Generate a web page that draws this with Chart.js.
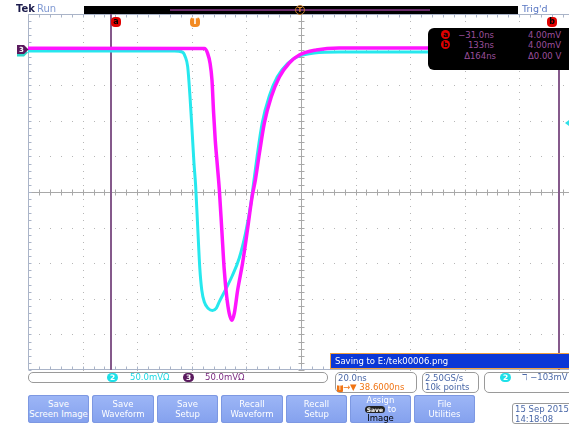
<!DOCTYPE html>
<html><head><meta charset="utf-8">
<script src="https://cdn.jsdelivr.net/npm/chart.js@4.4.1/dist/chart.umd.min.js"></script>
<style>
html,body{margin:0;padding:0;background:#fff;overflow:hidden}
#wrap{position:relative;width:569px;height:428px;font-family:"DejaVu Sans",sans-serif;font-size:8.5px}
#c{position:absolute;left:0;top:0}
.a{position:absolute;white-space:nowrap;line-height:1}
.box{position:absolute;border:1px solid #9a9a9a;border-radius:5px;background:#fff;box-sizing:border-box}
.btn{position:absolute;top:395px;height:28px;width:61px;background:linear-gradient(#9db6f6,#84a1ee);border-radius:3px;color:#fff;text-align:center;line-height:9.5px;font-size:8.5px;box-sizing:border-box;padding-top:5px;box-shadow:inset 0 0 0 1px #7d98e2}
.pill{display:inline-block;border-radius:5px;color:#fff;font-size:7.5px;line-height:9px;padding:0 3px;font-weight:bold}
.mk{position:absolute;width:10px;height:10px;border-radius:4px;font-size:8px;font-weight:bold;text-align:center;line-height:10px}
.rc{display:inline-block;width:9px;height:9px;border-radius:50%;background:#e00000;color:#000;font-size:7.5px;font-weight:bold;text-align:center;line-height:9px}
</style>
</head><body>
<div id="wrap">
<canvas id="c" width="569" height="428"></canvas>

<!-- top status -->
<div class="a" style="left:16px;top:4px;font-size:10px;font-weight:bold;color:#1c1c4c">Tek</div>
<div class="a" style="left:37px;top:4px;font-size:10px;color:#7f98d2">Run</div>
<div class="a" style="left:84px;top:6px;width:434px;height:8px;background:#000"></div>
<div class="a" style="left:170px;top:9px;width:260px;height:2px;background:#6a2a6a"></div>
<div class="a" style="left:295px;top:5px;width:8px;height:8px;border:1.5px solid #c07a30;border-radius:50%;color:#e08a30;font-size:7px;text-align:center;line-height:8px;font-weight:bold">T</div>
<div class="a" style="left:522px;top:4px;font-size:9.5px;color:#5a78c4">Trig'd</div>

<!-- cursor / trigger markers -->
<div class="mk" style="left:111px;top:17px;background:#e00000;color:#000">a</div>
<div class="mk" style="left:190px;top:17px;background:#f28a22;color:#fff">T</div>
<div class="mk" style="left:547px;top:17px;background:#e00000;color:#000">b</div>

<!-- cursor readout -->
<div class="a" style="left:428px;top:28px;width:150px;height:42px;background:#000;border-radius:6px"></div>
<div class="a" style="left:441px;top:30px"><span class="rc">a</span></div>
<div class="a" style="left:441px;top:40px"><span class="rc">b</span></div>
<div class="a" style="left:440px;top:31px;width:54px;text-align:right;color:#9c4f9c">−31.0ns</div>
<div class="a" style="left:440px;top:41px;width:54px;text-align:right;color:#9c4f9c">133ns</div>
<div class="a" style="left:440px;top:52px;width:56px;text-align:right;color:#9c4f9c">Δ164ns</div>
<div class="a" style="left:528px;top:31px;color:#9c4f9c">4.00mV</div>
<div class="a" style="left:528px;top:41px;color:#9c4f9c">4.00mV</div>
<div class="a" style="left:528px;top:52px;color:#9c4f9c">Δ0.00 V</div>

<!-- saving bar -->
<div class="a" style="left:330px;top:353px;width:245px;height:16px;background:#0b37d6;border:1px solid #f0a040;box-sizing:border-box"></div>
<div class="a" style="left:335px;top:357px;color:#fff;font-size:8.5px">Saving to E:/tek00006.png</div>

<!-- channel box -->
<div class="box" style="left:28px;top:372px;width:300px;height:11px"></div>
<div class="a" style="left:107px;top:373px"><span class="pill" style="background:#1ee0e8">2</span></div>
<div class="a" style="left:130px;top:373px;color:#1ed8e2">50.0mVΩ</div>
<div class="a" style="left:183px;top:373px"><span class="pill" style="background:#5a1a5e">3</span></div>
<div class="a" style="left:205px;top:373px;color:#7a2a80">50.0mVΩ</div>

<!-- horizontal box -->
<div class="box" style="left:335px;top:372px;width:82px;height:21px"></div>
<div class="a" style="left:338px;top:374px;color:#4a68a8">20.0ns</div>
<div class="a" style="left:337px;top:383px;color:#f07414"><span style="display:inline-block;background:#f07414;color:#fff;font-size:7px;width:6px;text-align:center;border-radius:1px">T</span>→▼ 38.6000ns</div>

<!-- acquisition box -->
<div class="box" style="left:422px;top:372px;width:57px;height:21px"></div>
<div class="a" style="left:425px;top:374px;color:#4a68a8">2.50GS/s</div>
<div class="a" style="left:425px;top:383px;color:#4a68a8">10k points</div>

<!-- trigger box -->
<div class="box" style="left:484px;top:372px;width:95px;height:21px"></div>
<div class="a" style="left:500px;top:373px"><span class="pill" style="background:#1ee0e8">2</span></div>
<div class="a" style="left:522px;top:373px;color:#4a68a8">ℸ −103mV</div>

<!-- buttons -->
<div class="btn" style="left:28px">Save<br>Screen Image</div>
<div class="btn" style="left:92px;width:62px">Save<br>Waveform</div>
<div class="btn" style="left:157px">Save<br>Setup</div>
<div class="btn" style="left:221px;width:62px">Recall<br>Waveform</div>
<div class="btn" style="left:286px">Recall<br>Setup</div>
<div class="btn" style="left:350px;padding-top:1px;line-height:9px">Assign<br><span class="pill" style="background:#222;font-size:6px;line-height:7px;padding:0 2px">Save</span> to<br><span style="color:#000">Image</span></div>
<div class="btn" style="left:414px">File<br>Utilities</div>

<!-- date -->
<div class="box" style="left:512px;top:403px;width:66px;height:21px;border-radius:3px"></div>
<div class="a" style="left:515px;top:405px;color:#4a68a8">15 Sep  2015</div>
<div class="a" style="left:515px;top:415px;color:#4a68a8">14:18:08</div>
</div>

<script>
// ---- data (time in ns, amplitude in mV) ----
const ch2Time = [-61.4, -7.8, -4.9, -3.8, -2.9, -2.05, -1.3, -0.6, 0.0, 0.73, 1.54, 2.27, 3.2, 4.65, 6.2, 7.6, 8.7, 11.1, 13.4, 16.0, 18.4, 20.2, 21.3, 22.6, 24.4, 27.0, 29.9, 33.6, 37.3, 43.5, 52.6, 136.8];
const ch2mV   = [-2, -2, -3.4, -10, -24, -66, -113, -159, -190, -246, -307, -338, -354.6, -363.6, -366.4, -363, -354, -336, -318, -292.7, -256, -218, -186, -148, -103, -65, -38.5, -20, -10, -4.8, -3.4, -3.4];
const ch3Time = [-61.4, 3.2, 4.4, 5.3, 6.0, 6.6, 7.2, 7.95, 8.7, 9.6, 10.5, 11.4, 12.3, 13.3, 14.2, 15.4, 17.2, 19.0, 20.7, 21.9, 23.4, 25.2, 27.7, 30.7, 34.3, 38.0, 44.2, 52.6, 136.8];
const ch3mV   = [1.8, 1.5, -5.2, -19.2, -42.7, -89, -127, -162, -197, -253, -309.5, -347, -370, -380, -370, -338, -300, -253, -206.6, -183, -145, -103, -66.6, -38.5, -18.8, -7.6, -0.6, 2.2, 2.2];
const cursorTimes = [-31.0, 133];
const cursorTops = [0, 56];          // offset from plot top where each cursor line starts (px)
const triggerLevel = -103;
const xMin = -61.4, xMax = 136.8, nsPerDiv = 20;
const yMin = -450, yMax = 50, mVPerDiv = 50;
const xCenter = 38.6, yCenter = -200;

const scopeGrid = {
  id: 'scopeGrid',
  beforeDatasetsDraw(chart) {
    const {ctx, chartArea: a, scales: {x, y}} = chart;
    ctx.save();
    // dotted graticule
    ctx.fillStyle = '#b6b6b6';
    for (let k = 1; k < 10; k++) {
      if (k === 5) continue;
      const px = Math.round(x.getPixelForValue(xMin + k * nsPerDiv));
      if (px > a.right) continue;
      for (let j = 0; j <= 50; j++) {
        const py = Math.round(y.getPixelForValue(yMax - j * mVPerDiv / 5));
        ctx.fillRect(px, py, 1, 1);
      }
    }
    for (let k = 1; k < 10; k++) {
      if (k === 5) continue;
      const py = Math.round(y.getPixelForValue(yMax - k * mVPerDiv));
      for (let j = 0; j <= 50; j++) {
        const px = Math.round(x.getPixelForValue(xMin + j * nsPerDiv / 5));
        if (px <= a.right) ctx.fillRect(px, py, 1, 1);
      }
    }
    // center cross with ticks
    ctx.strokeStyle = '#a8a8a8';
    ctx.lineWidth = 1;
    const cx = Math.round(x.getPixelForValue(xCenter)) + 0.5;
    const cy = Math.round(y.getPixelForValue(yCenter)) + 0.5;
    ctx.beginPath();
    ctx.moveTo(cx, a.top); ctx.lineTo(cx, a.bottom);
    ctx.moveTo(a.left, cy); ctx.lineTo(a.right, cy);
    for (let j = 0; j <= 50; j++) {
      const py = Math.round(y.getPixelForValue(yMax - j * mVPerDiv / 5)) + 0.5;
      ctx.moveTo(cx - 3, py); ctx.lineTo(cx + 3, py);
      const px = Math.round(x.getPixelForValue(xMin + j * nsPerDiv / 5)) + 0.5;
      if (px <= a.right) { ctx.moveTo(px, cy - 3); ctx.lineTo(px, cy + 3); }
    }
    ctx.stroke();
    // border with inward ticks
    ctx.strokeStyle = '#aab4c8';
    ctx.beginPath();
    const L = Math.round(a.left) + 0.5, T = Math.round(a.top) + 0.5, B = Math.round(a.bottom) - 0.5;
    ctx.moveTo(L, T); ctx.lineTo(L, B);
    ctx.moveTo(L, T); ctx.lineTo(a.right, T);
    ctx.moveTo(L, B); ctx.lineTo(a.right, B);
    for (let j = 0; j <= 50; j++) {
      const py = Math.round(y.getPixelForValue(yMax - j * mVPerDiv / 5)) + 0.5;
      ctx.moveTo(L, py); ctx.lineTo(L + 3, py);
      const px = Math.round(x.getPixelForValue(xMin + j * nsPerDiv / 5)) + 0.5;
      if (px <= a.right) {
        ctx.moveTo(px, T); ctx.lineTo(px, T + 3);
        ctx.moveTo(px, B); ctx.lineTo(px, B - 3);
      }
    }
    ctx.stroke();
    // cursors
    ctx.strokeStyle = '#85598b';
    ctx.lineWidth = 2;
    ctx.beginPath();
    cursorTimes.forEach((t, i) => {
      const px = Math.round(x.getPixelForValue(t));
      ctx.moveTo(px, a.top + cursorTops[i]); ctx.lineTo(px, a.bottom);
    });
    ctx.stroke();
    ctx.restore();
  },
  afterDraw(chart) {
    const {ctx, scales: {y}} = chart;
    ctx.save();
    const g = y.getPixelForValue(0);
    // ch2 ground marker (behind)
    ctx.fillStyle = '#2fd6c8';
    ctx.beginPath();
    ctx.moveTo(17, g - 1); ctx.lineTo(24, g - 1); ctx.lineTo(28, g + 3); ctx.lineTo(24, g + 7); ctx.lineTo(17, g + 7); ctx.closePath();
    ctx.fill();
    // ch3 ground marker
    ctx.fillStyle = '#5a1a5e';
    ctx.beginPath();
    ctx.moveTo(17, g - 4.5); ctx.lineTo(24, g - 4.5); ctx.lineTo(28.5, g); ctx.lineTo(24, g + 4.5); ctx.lineTo(17, g + 4.5); ctx.closePath();
    ctx.fill();
    ctx.fillStyle = '#fff';
    ctx.font = 'bold 7px "DejaVu Sans"';
    ctx.textAlign = 'center'; ctx.textBaseline = 'middle';
    ctx.fillText('3', 21.5, g + 0.5);
    // trigger level marker
    const tl = y.getPixelForValue(triggerLevel);
    ctx.fillStyle = '#2fe0e8';
    ctx.beginPath();
    ctx.moveTo(565, tl); ctx.lineTo(569, tl - 3); ctx.lineTo(569, tl + 3); ctx.closePath();
    ctx.fill();
    ctx.restore();
  }
};

const toPts = (xs, ys) => xs.map((t, i) => ({x: t, y: ys[i]}));

new Chart(document.getElementById('c'), {
  type: 'line',
  data: {
    datasets: [
      {label: 'CH3', data: toPts(ch3Time, ch3mV), borderColor: '#ff14ff', borderWidth: 3.5,
       pointRadius: 0, cubicInterpolationMode: 'monotone', fill: false},
      {label: 'CH2', data: toPts(ch2Time, ch2mV), borderColor: '#26e8ee', borderWidth: 3,
       pointRadius: 0, cubicInterpolationMode: 'monotone', fill: false}
    ]
  },
  options: {
    responsive: false,
    animation: false,
    events: [],
    layout: {padding: {left: 28, top: 14, right: 0, bottom: 58}},
    scales: {
      x: {type: 'linear', min: xMin, max: xMax, display: false},
      y: {type: 'linear', min: yMin, max: yMax, display: false}
    },
    plugins: {legend: {display: false}, tooltip: {enabled: false}}
  },
  plugins: [scopeGrid]
});
</script>
</body></html>
